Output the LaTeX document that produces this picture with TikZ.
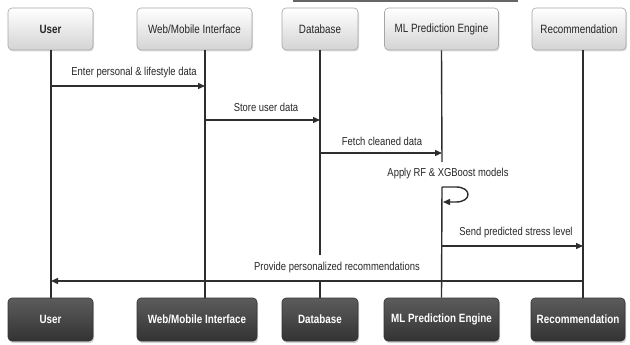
\documentclass[tikz,border=0pt]{standalone}
\usepackage{fontspec}
\setmainfont{Liberation Sans}[FakeStretch=0.82]
\usetikzlibrary{arrows.meta,shadows}
\definecolor{linec}{HTML}{2E2E2E}
\definecolor{topbot}{HTML}{D4D4D4}
\definecolor{darktop}{HTML}{5C5C5C}
\definecolor{darkbot}{HTML}{333333}
\tikzset{
  topbox/.style={draw=gray!70, line width=0.6pt, rounded corners=4pt, top color=white, bottom color=topbot,
    minimum height=42pt, inner sep=0pt, font=\fontsize{12}{14}\selectfont, text=black!85,
    drop shadow={opacity=0.25, shadow xshift=1pt, shadow yshift=-1.5pt}},
  botbox/.style={draw=darkbot, line width=0.6pt, rounded corners=4pt, top color=darktop, bottom color=darkbot,
    minimum height=43pt, inner sep=0pt, font=\fontsize{12}{14}\selectfont\bfseries, text=white,
    drop shadow={opacity=0.35, shadow xshift=1pt, shadow yshift=-2pt}},
  life/.style={draw=linec, line width=1.4pt},
  msg/.style={draw=linec, line width=1.4pt, -{Triangle[length=7pt,width=6pt]}},
  lbl/.style={font=\fontsize{11.5}{13}\selectfont, text=black!85, inner sep=1pt}
}
\begin{document}
\begin{tikzpicture}[x=1pt,y=-1pt]
\useasboundingbox (0,0) rectangle (630,345);
% top stray bar
\draw[gray!80!black, line width=2pt] (293,1) -- (518,1);
% top boxes
\node[topbox, minimum width=85pt, font=\fontsize{12}{14}\selectfont\bfseries] (ut) at (50.5,29) {User};
\node[topbox, minimum width=115pt] (wt) at (194.5,29) {Web/Mobile Interface};
\node[topbox, minimum width=76pt] (dt) at (320,29) {Database};
\node[topbox, minimum width=114pt] (mt) at (441.5,29) {ML Prediction Engine};
\node[topbox, minimum width=94pt] (rt) at (579,29) {Recommendation};
% bottom boxes
\node[botbox, minimum width=85pt] (ub) at (50.5,319.5) {User};
\node[botbox, minimum width=120pt] (wb) at (197,319.5) {Web/Mobile Interface};
\node[botbox, minimum width=76pt] (db) at (320,319.5) {Database};
\node[botbox, minimum width=115pt] (mb) at (441.5,319.5) {ML Prediction Engine};
\node[botbox, minimum width=94pt] (rb) at (578,319.5) {Recommendation};
% lifeline x positions
\coordinate (lu) at (51,0);
\coordinate (lw) at (205,0);
\coordinate (ld) at (320,0);
\coordinate (lm) at (442,0);
\coordinate (lr) at (583,0);
\coordinate (dgap1) at (320,255);
\coordinate (dgap2) at (320,281);
\coordinate (mgap1) at (442,162);
\coordinate (mgap2) at (442,187);
% lifelines
\draw[life] (lu |- ut.south) -- (lu |- ub.north);
\draw[life] (lw |- wt.south) -- (lw |- wb.north);
\draw[life] (dt.south) -- (dgap1);
\draw[life] (dgap2) -- (db.north);
\draw[life] (mt.south) -- (mgap1);
\draw[life] (mgap2) -- (mb.north);
\draw[life] (lr |- rt.south) -- (lr |- rb.north);
% message endpoints
\coordinate (m1a) at (51,86);   \coordinate (m1b) at (205,86);
\coordinate (m2a) at (205,120); \coordinate (m2b) at (320,120);
\coordinate (m3a) at (320,153); \coordinate (m3b) at (442,153);
\coordinate (m4a) at (442,187); \coordinate (m4b) at (443,202);
\coordinate (m5a) at (442,246); \coordinate (m5b) at (583,246);
\coordinate (m6a) at (583,281); \coordinate (m6b) at (51,281);
% messages
\draw[msg] (m1a) -- (m1b);
\node[lbl] (t1) at (134,73) {Enter personal \& lifestyle data};
\draw[msg] (m2a) -- (m2b);
\node[lbl] (t2) at (266,107) {Store user data};
\draw[msg] (m3a) -- (m3b);
\node[lbl] (t3) at (382,141) {Fetch cleaned data};
\draw[msg] (m4a) -- (456,187) .. controls (472,187) and (472,202) .. (456,202) -- (m4b);
\node[lbl] (t4) at (448,174) {Apply RF \& XGBoost models};
\draw[msg] (m5a) -- (m5b);
\node[lbl] (t5) at (516,233) {Send predicted stress level};
\draw[msg] (m6a) -- (m6b);
\node[lbl] (t6) at (337,268) {Provide personalized recommendations};
\end{tikzpicture}
\end{document}
